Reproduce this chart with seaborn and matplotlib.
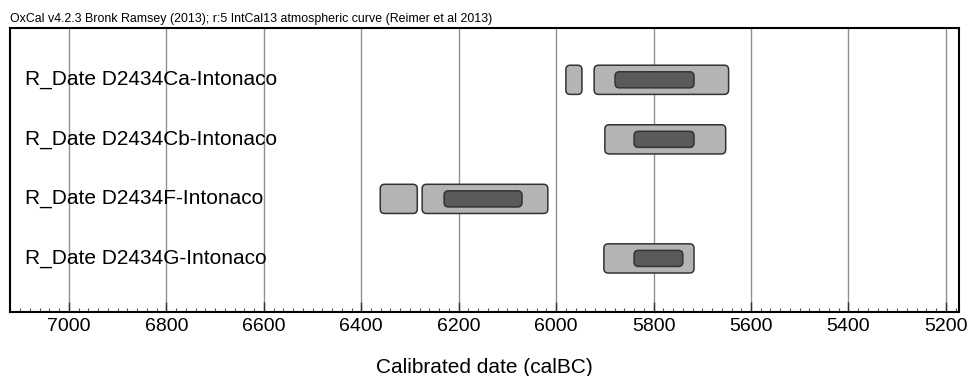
import matplotlib
matplotlib.use("Agg")
import matplotlib.pyplot as plt
from matplotlib.patches import FancyBboxPatch
from matplotlib.ticker import MultipleLocator
import seaborn as sns

# Data (calBC)
labels = ["R_Date D2434Ca-Intonaco", "R_Date D2434Cb-Intonaco",
          "R_Date D2434F-Intonaco", "R_Date D2434G-Intonaco"]

# 95.4% ranges (light boxes)
outer_row = [0, 0, 1, 2, 2, 3]
outer_from = [5980, 5922, 5900, 6361, 6275, 5902]
outer_to = [5947, 5646, 5652, 6285, 6017, 5717]

# 68.2% ranges (dark boxes)
inner_row = [0, 1, 2, 3]
inner_from = [5879, 5840, 6230, 5840]
inner_to = [5717, 5717, 6070, 5740]

header = "OxCal v4.2.3 Bronk Ramsey (2013); r:5 IntCal13 atmospheric curve (Reimer et al 2013)"

sns.set_style("white")
plt.rcParams["font.family"] = ["Liberation Sans", "DejaVu Sans"]
plt.rcParams["text.color"] = "black"
plt.rcParams["axes.labelcolor"] = "black"
plt.rcParams["xtick.labelcolor"] = "black"

fig = plt.figure(figsize=(9.7, 3.76), dpi=100)
ax = fig.add_axes([0.0103, 0.1702, 0.9784, 0.7553])

ax.set_xlim(7121, 5173)
ax.set_ylim(3.9, -0.87)

# rounded boxes: keep corners round despite very different x/y scales
aspect = (1 / 59.5) / (1 / 0.488)


def box(x0, x1, row, h, fc):
    left = min(x0, x1)
    w = abs(x1 - x0)
    p = FancyBboxPatch((left, row - h / 2), w, h,
                       boxstyle="round,pad=0,rounding_size=9",
                       mutation_aspect=aspect,
                       fc=fc, ec="#333333", lw=1.1, zorder=3)
    ax.add_patch(p)


for r, a, b in zip(outer_row, outer_from, outer_to):
    box(a, b, r, 0.49, "#b4b4b4")
for r, a, b in zip(inner_row, inner_from, inner_to):
    box(a, b, r, 0.27, "#5a5a5a")

for i, lab in enumerate(labels):
    ax.text(0.016, i, lab, transform=ax.get_yaxis_transform(),
            ha="left", va="center", fontsize=15, color="black", zorder=4)

ax.xaxis.set_major_locator(MultipleLocator(200))
ax.xaxis.set_minor_locator(MultipleLocator(20))
ax.grid(True, axis="x", which="major", color="#909090", lw=1)
ax.set_axisbelow(True)
ax.tick_params(axis="x", which="major", direction="in", length=7, width=1,
               labelsize=14, pad=4, bottom=True, top=False, color="#333333")
ax.tick_params(axis="x", which="minor", direction="in", length=3, width=0.8,
               bottom=True, top=False, color="#555555")
ax.set_yticks([])
for s in ax.spines.values():
    s.set_color("black")
    s.set_linewidth(1.5)

ax.set_xlabel("Calibrated date (calBC)", fontsize=15, labelpad=17)
fig.text(10 / 970, 1 - 25 / 376, header, fontsize=8.9, ha="left", va="bottom")

fig.savefig("out.png", dpi=100)
